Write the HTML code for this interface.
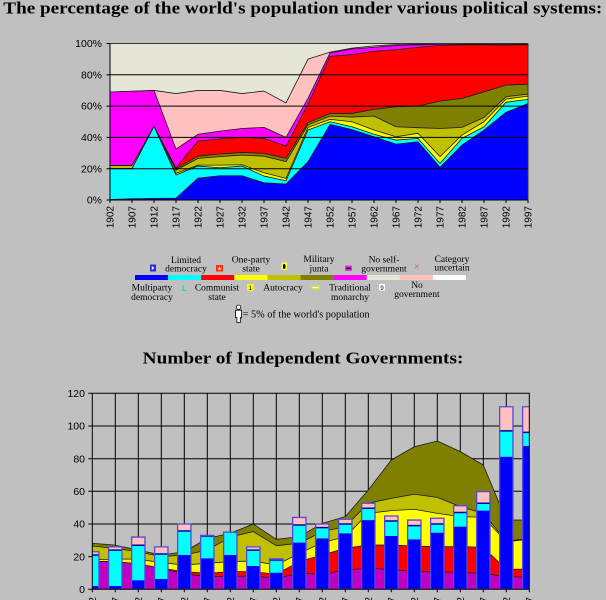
<!DOCTYPE html>
<html><head><meta charset="utf-8"><style>
html,body{margin:0;padding:0;background:#c0c0c0;}
svg{display:block;}
.t polygon,.t rect,.t line,.b polygon,.b rect,.b line{vector-effect:non-scaling-stroke;}
</style></head><body>
<svg width="606" height="600" viewBox="0 0 606 600" xmlns="http://www.w3.org/2000/svg" font-family="'Liberation Sans', sans-serif">
<rect width="606" height="600" fill="#c0c0c0"/>
<defs>
<clipPath id="c1"><rect x="110" y="43.5" width="418" height="156.5"/></clipPath>
<clipPath id="c2"><rect x="92.3" y="393.3" width="437" height="196"/></clipPath>
</defs>

<text x="3.3" y="13.5" font-family="'Liberation Serif', serif" font-weight="bold" font-size="17" textLength="599" lengthAdjust="spacingAndGlyphs">The percentage of the world's population under various political systems:</text>

<!-- TOP CHART -->
<g clip-path="url(#c1)">
<g class="t" transform="translate(110 200) scale(22 -1.565)" stroke="#1a1a1a" stroke-width="0.8" stroke-linejoin="round">
<rect x="0" y="0" width="19" height="100" fill="#e6e6d7" stroke="none"/>
<polygon fill="#ffc0c0" points="0,0 0,69 1,69.5 2,70 3,68 4,70 5,70 6,68 7,69.6 8,62 9,90 10,94.5 11,97 12,98.5 13,99.3 14,99.5 15,99.7 16,99.8 17,99.8 18,99.7 19,99.8 19,0"/>
<polygon fill="#ff00ff" points="0,0 0,69 1,69.5 2,70 3,32.5 4,42 5,44 6,45.7 7,46.4 8,40 9,65 10,94 11,96.5 12,97.6 13,98.8 14,99.1 15,99.5 16,99.6 17,99.6 18,99.5 19,99.6 19,0"/>
<polygon fill="#ff0000" points="0,0 0,22 1,22 2,47 3,20.5 4,37.7 5,39 6,40 7,39.4 8,34.5 9,61.3 10,91.8 11,92.9 12,95 13,96 14,97.6 15,98.8 16,99.1 17,99.1 18,99 19,99.2 19,0"/>
<polygon fill="#808000" points="0,0 0,22 1,22 2,47 3,20 4,28 5,29.4 6,30.4 7,29.8 8,26.6 9,49.4 10,55.3 11,55.3 12,57.9 13,59.6 14,60 15,63.2 16,64.9 17,69.1 18,73.4 19,74 19,0"/>
<polygon fill="#c0c000" points="0,0 0,22 1,22 2,47 3,19 4,26.6 5,27.7 6,28.7 7,28 8,24.5 9,48 10,53.6 11,53 12,53.6 13,46.8 14,46.2 15,45.7 16,46.4 17,52.8 18,66 19,67.7 19,0"/>
<polygon fill="#ffff00" points="0,0 0,20 1,20 2,47 3,17 4,22.3 5,22.3 6,22.5 7,17.4 8,13.8 9,46.4 10,51.5 11,50 12,44.7 13,40.4 14,42.6 15,27.7 16,41.5 17,50 18,64.5 19,66.4 19,0"/>
<polygon fill="#00ffff" points="0,0 0,20 1,20 2,47 3,16 4,21.7 5,20.6 6,21.7 7,15.3 8,12.3 9,44.7 10,50 11,46.8 12,42 13,38.3 14,39.4 15,23.4 16,39.4 17,46.8 18,62.5 19,64.3 19,0"/>
<polygon fill="#0000ff" points="0,0 0,0.3 1,0.8 2,1 3,1.2 4,14 5,15.5 6,15.5 7,11 8,10.2 9,24.5 10,48.3 11,45 12,40.4 13,35.7 14,37.2 15,20.9 16,35.1 17,44.7 18,56 19,61.7 19,0"/>
</g>
</g>
<g stroke="#000" stroke-width="1">
<line x1="110" y1="168.7" x2="528" y2="168.7"/>
<line x1="110" y1="137.4" x2="528" y2="137.4"/>
<line x1="110" y1="106.1" x2="528" y2="106.1"/>
<line x1="110" y1="74.8" x2="528" y2="74.8"/>
<line x1="110" y1="43.5" x2="528" y2="43.5" stroke="#333"/>
<line x1="528" y1="43.5" x2="528" y2="200" stroke="#333"/>
<line x1="110" y1="43.5" x2="110" y2="200"/>
<line x1="110" y1="200" x2="528" y2="200"/>
<line x1="106.5" y1="200" x2="110" y2="200"/>
<line x1="106.5" y1="168.7" x2="110" y2="168.7"/>
<line x1="106.5" y1="137.4" x2="110" y2="137.4"/>
<line x1="106.5" y1="106.1" x2="110" y2="106.1"/>
<line x1="106.5" y1="74.8" x2="110" y2="74.8"/>
<line x1="106.5" y1="43.5" x2="110" y2="43.5"/>
<path d="M110 200v3M132 200v3M154 200v3M176 200v3M198 200v3M220 200v3M242 200v3M264 200v3M286 200v3M308 200v3M330 200v3M352 200v3M374 200v3M396 200v3M418 200v3M440 200v3M462 200v3M484 200v3M506 200v3M528 200v3"/>
</g>
<g font-size="10.5" text-anchor="end" fill="#000">
<text x="102" y="203.6">0%</text>
<text x="102" y="172.3">20%</text>
<text x="102" y="141">40%</text>
<text x="102" y="109.7">60%</text>
<text x="102" y="78.4">80%</text>
<text x="102" y="47.1">100%</text>
</g>
<g font-size="10" text-anchor="end" fill="#000">
<text transform="translate(113.6 206) rotate(-90)">1902</text>
<text transform="translate(135.6 206) rotate(-90)">1907</text>
<text transform="translate(157.6 206) rotate(-90)">1912</text>
<text transform="translate(179.6 206) rotate(-90)">1917</text>
<text transform="translate(201.6 206) rotate(-90)">1922</text>
<text transform="translate(223.6 206) rotate(-90)">1927</text>
<text transform="translate(245.6 206) rotate(-90)">1932</text>
<text transform="translate(267.6 206) rotate(-90)">1937</text>
<text transform="translate(289.6 206) rotate(-90)">1942</text>
<text transform="translate(311.6 206) rotate(-90)">1947</text>
<text transform="translate(333.6 206) rotate(-90)">1952</text>
<text transform="translate(355.6 206) rotate(-90)">1957</text>
<text transform="translate(377.6 206) rotate(-90)">1962</text>
<text transform="translate(399.6 206) rotate(-90)">1967</text>
<text transform="translate(421.6 206) rotate(-90)">1972</text>
<text transform="translate(443.6 206) rotate(-90)">1977</text>
<text transform="translate(465.6 206) rotate(-90)">1982</text>
<text transform="translate(487.6 206) rotate(-90)">1987</text>
<text transform="translate(509.6 206) rotate(-90)">1992</text>
<text transform="translate(531.6 206) rotate(-90)">1997</text>
</g>

<!-- LEGEND -->
<g>
<rect x="135" y="275" width="33.2" height="5" fill="#0000ff"/>
<rect x="168.1" y="275" width="33.2" height="5" fill="#00ffff"/>
<rect x="201.2" y="275" width="33.2" height="5" fill="#ff0000"/>
<rect x="234.3" y="275" width="33.2" height="5" fill="#ffff00"/>
<rect x="267.4" y="275" width="33.2" height="5" fill="#c0c000"/>
<rect x="300.5" y="275" width="33.2" height="5" fill="#808000"/>
<rect x="333.6" y="275" width="33.2" height="5" fill="#ff00ff"/>
<rect x="366.7" y="275" width="33.2" height="5" fill="#e6e6d7"/>
<rect x="399.8" y="275" width="33.2" height="5" fill="#ffc0c0"/>
<rect x="432.9" y="275" width="33.1" height="5" fill="#ffffff"/>
</g>
<g font-family="'Liberation Serif', serif" font-size="9.5" text-anchor="middle" fill="#000">
<text x="186" y="263">Limited</text><text x="186" y="271.5">democracy</text>
<text x="251" y="262.5">One-party</text><text x="251" y="271.5">state</text>
<text x="319" y="262">Military</text><text x="319" y="271.5">junta</text>
<text x="384" y="262.5">No self-</text><text x="384" y="271.5">government</text>
<text x="452" y="261.8">Category</text><text x="452" y="270.5">uncertain</text>
<text x="152" y="290.5">Multiparty</text><text x="152" y="300">democracy</text>
<text x="217" y="290.5">Communist</text><text x="217" y="300">state</text>
<text x="283" y="290.5">Autocracy</text>
<text x="350" y="290.5">Traditional</text><text x="350" y="300">monarchy</text>
<text x="417" y="288">No</text><text x="417" y="297">government</text>
<text x="242.7" y="317.5" text-anchor="start" font-size="10" textLength="127" lengthAdjust="spacingAndGlyphs">= 5% of the world's population</text>
</g>
<!-- legend icons -->
<g>
<rect x="150" y="264.5" width="6" height="7" fill="#2a2ae8"/>
<path d="M151.8 266v4l2.6-2z" fill="#fff"/>
<rect x="216" y="265" width="7" height="6.5" fill="#ff2a2a"/>
<text x="219.5" y="270.6" font-size="6" text-anchor="middle" fill="#ffff00">★</text>
<rect x="281.5" y="262.5" width="5.5" height="7.5" fill="#ffff40"/>
<ellipse cx="284.2" cy="266.5" rx="1.3" ry="2.5" fill="#000"/>
<rect x="345" y="265.5" width="7" height="5.5" fill="#ff20ff"/>
<rect x="346" y="267.5" width="5" height="1.6" fill="#202020"/>
<text x="416.8" y="269.5" font-size="9" text-anchor="middle" fill="#d06070">×</text>
<text x="184.5" y="291" font-size="8" font-weight="bold" text-anchor="middle" fill="#00d8d8">L</text>
<rect x="247" y="284" width="6.5" height="7" fill="#ffff00"/>
<text x="250.2" y="290.2" font-size="6.5" text-anchor="middle" fill="#000">1</text>
<rect x="311" y="285" width="9" height="5" fill="#d8d840"/>
<rect x="312.5" y="287" width="6" height="1.2" fill="#fff"/>
<rect x="379" y="284" width="6" height="6.5" fill="#ffffff"/>
<text x="382" y="290" font-size="6" text-anchor="middle" fill="#000">9</text>
<!-- person -->
<circle cx="238.6" cy="307.2" r="2.2" fill="#fff" stroke="#000" stroke-width="0.8"/>
<path d="M235.6 310.2h6v7.5h-1.3v4.8h-3.4v-4.8h-1.3z" fill="#fff" stroke="#000" stroke-width="0.8"/>
</g>

<text x="142.7" y="363.3" font-family="'Liberation Serif', serif" font-weight="bold" font-size="17" textLength="320.7" lengthAdjust="spacingAndGlyphs">Number of Independent Governments:</text>

<!-- BOTTOM CHART -->
<g stroke="#000" stroke-width="1">
<path d="M92.3 556.6H529.3M92.3 524H529.3M92.3 491.3H529.3M92.3 458.7H529.3M92.3 426H529.3"/>
<path d="M115.3 393.3V589.3M138.3 393.3V589.3M161.3 393.3V589.3M184.3 393.3V589.3M207.3 393.3V589.3M230.3 393.3V589.3M253.3 393.3V589.3M276.3 393.3V589.3M299.3 393.3V589.3M322.3 393.3V589.3M345.3 393.3V589.3M368.3 393.3V589.3M391.3 393.3V589.3M414.3 393.3V589.3M437.3 393.3V589.3M460.3 393.3V589.3M483.3 393.3V589.3M506.3 393.3V589.3"/>
</g>
<g clip-path="url(#c2)">
<g class="b" transform="translate(92.3 589.3) scale(23 -1.633)" stroke="#1a1a1a" stroke-width="0.8" stroke-linejoin="round">
<polygon fill="#808000" points="0,0 0,28.2 1,27 2,24 3,21 4,23 5,31.2 6,34.3 7,40 8,30.6 9,32.2 10,40.4 11,44.5 12,60.8 13,79.2 14,87.3 15,90.8 16,84.3 17,76.1 18,42.4 19,42.4 19,0"/>
<polygon fill="#c0c000" points="0,0 0,26.5 1,25 2,23 3,20 4,21 5,24 6,32 7,35.3 8,26.7 9,28.2 10,35.3 11,38.4 12,52.7 13,55.7 14,58.2 15,56.3 16,50.6 17,46.5 18,29.6 19,31 19,0"/>
<polygon fill="#ffff00" points="0,0 0,18 1,18.5 2,18.5 3,16.3 4,14.9 5,15.9 6,17 7,17.3 8,14.9 9,22 10,28.6 11,32.2 12,46.5 13,48.2 14,49 15,46.5 16,44.5 17,44.1 18,29.2 19,30.6 19,0"/>
<polygon fill="#ff0000" points="0,0 0,17 1,17 2,15.5 3,12.9 4,10.8 5,9.8 6,10.8 7,10.8 8,9.2 9,17 10,21 11,25.1 12,27.1 13,27.1 14,26.5 15,26.1 16,26.1 17,25.7 18,12.2 19,12.4 19,0"/>
<polygon fill="#c000c0" points="0,0 0,17 1,17 2,15.5 3,12.9 4,9.4 5,7.8 6,7.8 7,8.2 8,6.7 9,9.8 10,9.2 11,11.8 12,12.9 13,12.2 14,10.8 15,10.8 16,10.2 17,9.8 18,7.8 19,7.3 19,0"/>
</g>
<g class="b" transform="translate(92.3 589.3) scale(23 -1.633)" stroke="none">
<!-- bars: blue, cyan, top -->
<rect x="-0.29" y="0" width="0.58" height="2" fill="#0000ff"/><rect x="-0.29" y="2" width="0.58" height="19" fill="#00ffff"/><rect x="-0.29" y="21" width="0.58" height="2" fill="#ffc0c0"/>
<rect x="0.71" y="0" width="0.58" height="2" fill="#0000ff"/><rect x="0.71" y="2" width="0.58" height="22" fill="#00ffff"/><rect x="0.71" y="24" width="0.58" height="2" fill="#ffc0c0"/>
<rect x="1.71" y="0" width="0.58" height="5.5" fill="#0000ff"/><rect x="1.71" y="5.5" width="0.58" height="21.5" fill="#00ffff"/><rect x="1.71" y="27" width="0.58" height="5" fill="#ffc0c0"/>
<rect x="2.71" y="0" width="0.58" height="6.3" fill="#0000ff"/><rect x="2.71" y="6.3" width="0.58" height="15.3" fill="#00ffff"/><rect x="2.71" y="21.6" width="0.58" height="4.4" fill="#ffc0c0"/>
<rect x="3.71" y="0" width="0.58" height="21" fill="#0000ff"/><rect x="3.71" y="21" width="0.58" height="14.7" fill="#00ffff"/><rect x="3.71" y="35.7" width="0.58" height="4.3" fill="#ffc0c0"/>
<rect x="4.71" y="0" width="0.58" height="19" fill="#0000ff"/><rect x="4.71" y="19" width="0.58" height="13" fill="#00ffff"/><rect x="4.71" y="32" width="0.58" height="1" fill="#3030c0"/>
<rect x="5.71" y="0" width="0.58" height="21" fill="#0000ff"/><rect x="5.71" y="21" width="0.58" height="13.7" fill="#00ffff"/><rect x="5.71" y="34.7" width="0.58" height="0.5" fill="#3030c0"/>
<rect x="6.71" y="0" width="0.58" height="14.3" fill="#0000ff"/><rect x="6.71" y="14.3" width="0.58" height="9.7" fill="#00ffff"/><rect x="6.71" y="24" width="0.58" height="2" fill="#ffc0c0"/>
<rect x="7.71" y="0" width="0.58" height="10.2" fill="#0000ff"/><rect x="7.71" y="10.2" width="0.58" height="7.1" fill="#00ffff"/><rect x="7.71" y="17.3" width="0.58" height="1.3" fill="#3030c0"/>
<rect x="8.71" y="0" width="0.58" height="28.6" fill="#0000ff"/><rect x="8.71" y="28.6" width="0.58" height="10.8" fill="#00ffff"/><rect x="8.71" y="39.4" width="0.58" height="4.6" fill="#ffc0c0"/>
<rect x="9.71" y="0" width="0.58" height="31.2" fill="#0000ff"/><rect x="9.71" y="31.2" width="0.58" height="6.6" fill="#00ffff"/><rect x="9.71" y="37.8" width="0.58" height="2.2" fill="#ffc0c0"/>
<rect x="10.71" y="0" width="0.58" height="34.3" fill="#0000ff"/><rect x="10.71" y="34.3" width="0.58" height="5.7" fill="#00ffff"/><rect x="10.71" y="40" width="0.58" height="2.9" fill="#ffc0c0"/>
<rect x="11.71" y="0" width="0.58" height="42.4" fill="#0000ff"/><rect x="11.71" y="42.4" width="0.58" height="7.2" fill="#00ffff"/><rect x="11.71" y="49.6" width="0.58" height="3.1" fill="#ffc0c0"/>
<rect x="12.71" y="0" width="0.58" height="32.7" fill="#0000ff"/><rect x="12.71" y="32.7" width="0.58" height="9.1" fill="#00ffff"/><rect x="12.71" y="41.8" width="0.58" height="3.1" fill="#ffc0c0"/>
<rect x="13.71" y="0" width="0.58" height="30.6" fill="#0000ff"/><rect x="13.71" y="30.6" width="0.58" height="8.4" fill="#00ffff"/><rect x="13.71" y="39" width="0.58" height="3.4" fill="#ffc0c0"/>
<rect x="14.71" y="0" width="0.58" height="34.7" fill="#0000ff"/><rect x="14.71" y="34.7" width="0.58" height="5.3" fill="#00ffff"/><rect x="14.71" y="40" width="0.58" height="3.5" fill="#ffc0c0"/>
<rect x="15.71" y="0" width="0.58" height="38.4" fill="#0000ff"/><rect x="15.71" y="38.4" width="0.58" height="8.6" fill="#00ffff"/><rect x="15.71" y="47" width="0.58" height="4.2" fill="#ffc0c0"/>
<rect x="16.71" y="0" width="0.58" height="48.2" fill="#0000ff"/><rect x="16.71" y="48.2" width="0.58" height="4.5" fill="#00ffff"/><rect x="16.71" y="52.7" width="0.58" height="7.1" fill="#ffc0c0"/>
<rect x="17.71" y="0" width="0.58" height="81.2" fill="#0000ff"/><rect x="17.71" y="81.2" width="0.58" height="15.8" fill="#00ffff"/><rect x="17.71" y="97" width="0.58" height="14.8" fill="#ffc0c0"/>
<rect x="18.71" y="0" width="0.58" height="87.8" fill="#0000ff"/><rect x="18.71" y="87.8" width="0.58" height="8.3" fill="#00ffff"/><rect x="18.71" y="96.1" width="0.58" height="15.7" fill="#ffc0c0"/>
<!-- separators -->
<g stroke="#0000a0" stroke-width="1.5">
<line x1="-0.29" x2="0.29" y1="21" y2="21"/><line x1="0.71" x2="1.29" y1="24" y2="24"/><line x1="1.71" x2="2.29" y1="27" y2="27"/><line x1="2.71" x2="3.29" y1="21.6" y2="21.6"/><line x1="3.71" x2="4.29" y1="35.7" y2="35.7"/><line x1="6.71" x2="7.29" y1="24" y2="24"/><line x1="8.71" x2="9.29" y1="39.4" y2="39.4"/><line x1="9.71" x2="10.29" y1="37.8" y2="37.8"/><line x1="10.71" x2="11.29" y1="40" y2="40"/><line x1="11.71" x2="12.29" y1="49.6" y2="49.6"/><line x1="12.71" x2="13.29" y1="41.8" y2="41.8"/><line x1="13.71" x2="14.29" y1="39" y2="39"/><line x1="14.71" x2="15.29" y1="40" y2="40"/><line x1="15.71" x2="16.29" y1="47" y2="47"/><line x1="16.71" x2="17.29" y1="52.7" y2="52.7"/><line x1="17.71" x2="18.29" y1="97" y2="97"/><line x1="18.71" x2="19.29" y1="96.1" y2="96.1"/>
</g>
<!-- outlines -->
<g fill="none" stroke="#5a46d8" stroke-width="1.3">
<rect x="-0.29" y="0" width="0.58" height="23"/><rect x="0.71" y="0" width="0.58" height="26"/><rect x="1.71" y="0" width="0.58" height="32"/><rect x="2.71" y="0" width="0.58" height="26"/><rect x="3.71" y="0" width="0.58" height="40"/><rect x="4.71" y="0" width="0.58" height="33"/><rect x="5.71" y="0" width="0.58" height="35"/><rect x="6.71" y="0" width="0.58" height="26"/><rect x="7.71" y="0" width="0.58" height="18.6"/><rect x="8.71" y="0" width="0.58" height="44"/><rect x="9.71" y="0" width="0.58" height="40"/><rect x="10.71" y="0" width="0.58" height="42.9"/><rect x="11.71" y="0" width="0.58" height="52.7"/><rect x="12.71" y="0" width="0.58" height="44.9"/><rect x="13.71" y="0" width="0.58" height="42.4"/><rect x="14.71" y="0" width="0.58" height="43.5"/><rect x="15.71" y="0" width="0.58" height="51.2"/><rect x="16.71" y="0" width="0.58" height="59.8"/><rect x="17.71" y="0" width="0.58" height="111.8"/><rect x="18.71" y="0" width="0.58" height="111.8"/>
</g>
</g>
</g>
<g stroke="#000" stroke-width="1" fill="none">
<path d="M92.3 393.3H529.3V589.3"/>
<path d="M92.3 393.3V589.3H529.3"/>
<path d="M88.3 589.3H92.3M88.3 556.6H92.3M88.3 524H92.3M88.3 491.3H92.3M88.3 458.7H92.3M88.3 426H92.3M88.3 393.3H92.3"/>
<path d="M92.3 589.3v3M115.3 589.3v3M138.3 589.3v3M161.3 589.3v3M184.3 589.3v3M207.3 589.3v3M230.3 589.3v3M253.3 589.3v3M276.3 589.3v3M299.3 589.3v3M322.3 589.3v3M345.3 589.3v3M368.3 589.3v3M391.3 589.3v3M414.3 589.3v3M437.3 589.3v3M460.3 589.3v3M483.3 589.3v3M506.3 589.3v3M529.3 589.3v3"/>
</g>
<g font-size="10.5" text-anchor="end" fill="#000">
<text x="85" y="593">0</text>
<text x="85" y="560.4">20</text>
<text x="85" y="527.7">40</text>
<text x="85" y="495">60</text>
<text x="85" y="462.4">80</text>
<text x="85" y="429.7">100</text>
<text x="85" y="397">120</text>
</g>
<g font-size="10" text-anchor="end" fill="#000">
<text transform="translate(95.9 597) rotate(-90)">1902</text>
<text transform="translate(118.9 597) rotate(-90)">1907</text>
<text transform="translate(141.9 597) rotate(-90)">1912</text>
<text transform="translate(164.9 597) rotate(-90)">1917</text>
<text transform="translate(187.9 597) rotate(-90)">1922</text>
<text transform="translate(210.9 597) rotate(-90)">1927</text>
<text transform="translate(233.9 597) rotate(-90)">1932</text>
<text transform="translate(256.9 597) rotate(-90)">1937</text>
<text transform="translate(279.9 597) rotate(-90)">1942</text>
<text transform="translate(302.9 597) rotate(-90)">1947</text>
<text transform="translate(325.9 597) rotate(-90)">1952</text>
<text transform="translate(348.9 597) rotate(-90)">1957</text>
<text transform="translate(371.9 597) rotate(-90)">1962</text>
<text transform="translate(394.9 597) rotate(-90)">1967</text>
<text transform="translate(417.9 597) rotate(-90)">1972</text>
<text transform="translate(440.9 597) rotate(-90)">1977</text>
<text transform="translate(463.9 597) rotate(-90)">1982</text>
<text transform="translate(486.9 597) rotate(-90)">1987</text>
<text transform="translate(509.9 597) rotate(-90)">1992</text>
<text transform="translate(532.9 597) rotate(-90)">1997</text>
</g>
</svg>
</body></html>
